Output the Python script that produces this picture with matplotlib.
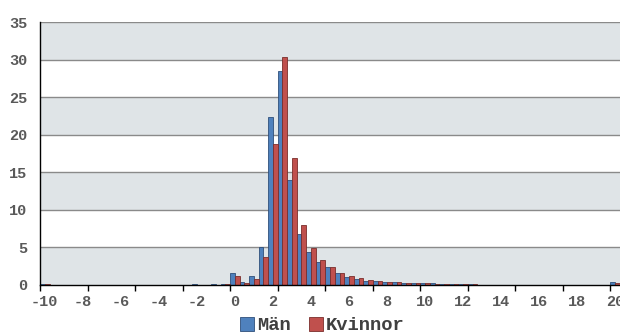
import matplotlib
matplotlib.use("Agg")
import matplotlib.pyplot as plt
from matplotlib.patches import Patch
import numpy as np

categories = [-10, -9.5, -9, -8.5, -8, -7.5, -7, -6.5, -6, -5.5,
              -5, -4.5, -4, -3.5, -3, -2.5, -2, -1.5, -1, -0.5,
              0, 0.5, 1, 1.5, 2, 2.5, 3, 3.5, 4, 4.5,
              5, 5.5, 6, 6.5, 7, 7.5, 8, 8.5, 9, 9.5,
              10, 10.5, 11, 11.5, 12, 12.5, 13, 13.5, 14, 14.5,
              15, 15.5, 16, 16.5, 17, 17.5, 18, 18.5, 19, 19.5, 20]

man = [0.15, 0.05, 0.02, 0.02, 0.02, 0.02, 0.02, 0.02, 0.02, 0.02,
       0.03, 0.05, 0.03, 0.03, 0.05, 0.05, 0.08, 0.05, 0.08, 0.10,
       1.64, 0.36, 1.20, 5.10, 22.4, 28.5, 14.0, 6.75, 4.35, 3.00,
       2.36, 1.56, 1.11, 0.76, 0.58, 0.49, 0.40, 0.36, 0.30, 0.27,
       0.30, 0.20, 0.17, 0.14, 0.12, 0.08, 0.06, 0.05, 0.05, 0.04,
       0.04, 0.03, 0.03, 0.03, 0.03, 0.03, 0.02, 0.02, 0.02, 0.02, 0.40]

kvinnor = [0.08, 0.03, 0.02, 0.02, 0.02, 0.02, 0.02, 0.02, 0.02, 0.02,
           0.02, 0.03, 0.03, 0.03, 0.04, 0.04, 0.05, 0.05, 0.06, 0.10,
           1.15, 0.20, 0.78, 3.70, 18.8, 30.4, 16.9, 7.95, 4.90, 3.30,
           2.45, 1.64, 1.20, 0.88, 0.67, 0.53, 0.44, 0.36, 0.30, 0.25,
           0.22, 0.18, 0.15, 0.12, 0.10, 0.07, 0.05, 0.05, 0.04, 0.04,
           0.03, 0.03, 0.03, 0.03, 0.02, 0.02, 0.02, 0.02, 0.02, 0.02, 0.22]

tick_labels = ['-10', '-8', '-6', '-4', '-2', '0', '2', '4', '6', '8',
               '10', '12', '14', '16', '18', '20']
y_ticks = [0, 5, 10, 15, 20, 25, 30, 35]

series_names = ['Män', 'Kvinnor']
colors = ['#4f81bd', '#c0504d']
edges = ['#2f4f7a', '#7a2e2c']

font = 'Liberation Mono'
text_gray = '#595959'

fig = plt.figure(figsize=(6.2, 3.36), dpi=100)
ax = fig.add_axes([40 / 620, 51 / 336, 580 / 620, 263 / 336])

# bands and grid
for lo in (0, 10, 20, 30):
    ax.axhspan(lo, lo + 5, color='#dfe4e7', zorder=0, lw=0)
for y in y_ticks[1:]:
    ax.axhline(y, color='#8a8a8a', lw=1.0, zorder=1)

idx = np.arange(len(categories))
w = 0.5
ax.bar(idx - w / 2, man, width=w, color=colors[0], edgecolor=edges[0],
       linewidth=0.6, zorder=3)
ax.bar(idx + w / 2, kvinnor, width=w, color=colors[1], edgecolor=edges[1],
       linewidth=0.6, zorder=3)

ax.set_xlim(-0.5, len(categories) - 0.5)
ax.set_ylim(0, 35)

for s in ('top', 'right'):
    ax.spines[s].set_visible(False)
for s in ('left', 'bottom'):
    ax.spines[s].set_color('black')
    ax.spines[s].set_linewidth(1.0)
    ax.spines[s].set_zorder(4)

# major x ticks: boundaries every 5 categories, no labels
ax.set_xticks([-0.5 + 5 * k for k in range(13)])
ax.set_xticklabels([])
ax.tick_params(axis='x', which='major', length=4, width=1, direction='out', color='black')

# labels every 4 categories
lab_pos = [categories.index(float(t)) for t in tick_labels]
ax.set_xticks(lab_pos, minor=True)
ax.set_xticklabels(tick_labels, minor=True, fontfamily=font, fontweight='bold',
                   fontsize=11, color=text_gray)
ax.tick_params(axis='x', which='minor', length=0, pad=7)

ax.set_yticks(y_ticks)
ax.set_yticklabels([str(v) for v in y_ticks], fontfamily=font, fontweight='bold',
                   fontsize=11, color=text_gray)
ax.tick_params(axis='y', length=0, pad=9)

handles = [Patch(facecolor=colors[i], edgecolor=edges[i], linewidth=0.6, label=series_names[i])
           for i in range(2)]
leg = fig.legend(handles=handles, loc='lower center', bbox_to_anchor=(0.52, -0.045),
                 ncol=2, frameon=False, handlelength=0.75, handleheight=0.75,
                 handletextpad=0.15, columnspacing=1.0,
                 prop={'family': font, 'weight': 'bold', 'size': 13.5})
for t in leg.get_texts():
    t.set_color('#404040')

fig.savefig('out.png', dpi=100)
